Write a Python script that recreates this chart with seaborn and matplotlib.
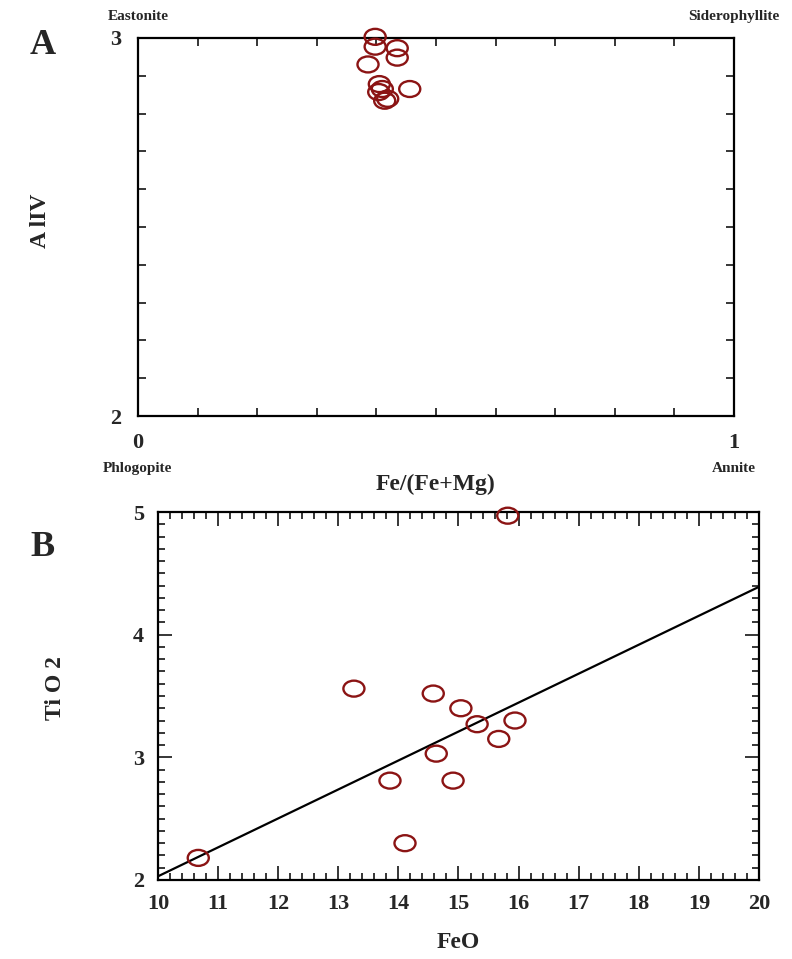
import numpy as np
import pandas as pd
import matplotlib
matplotlib.use("Agg")
import matplotlib.pyplot as plt
from matplotlib.path import Path
from matplotlib.transforms import Affine2D
from matplotlib.ticker import MultipleLocator
import seaborn as sns

sns.set_style("white")
plt.rcParams['font.family'] = ['Liberation Serif', 'DejaVu Serif']
plt.rcParams['font.weight'] = 'bold'

# Panel A data: Fe/(Fe+Mg) vs AlIV
feratio = [0.398, 0.398, 0.435, 0.435, 0.386, 0.405, 0.410, 0.404, 0.456, 0.414, 0.419]
aliv = [3.003, 2.977, 2.973, 2.948, 2.930, 2.878, 2.865, 2.857, 2.865, 2.834, 2.839]

# Panel B data: FeO vs TiO2
feo = [10.67, 13.26, 14.58, 15.04, 15.31, 15.94, 15.67, 14.63, 13.86, 14.91, 14.11, 15.82]
tio2 = [2.18, 3.56, 3.52, 3.40, 3.27, 3.30, 3.15, 3.03, 2.81, 2.81, 2.30, 4.97]

# trend line in panel B
trend_x = [10, 20]
trend_y = [2.03, 4.39]

corner_labels = ["Eastonite", "Siderophyllite", "Phlogopite", "Annite"]

RED = "#8B1414"
ellipse = Path.unit_circle().transformed(Affine2D().scale(1.32, 1.0))

fig = plt.figure(figsize=(7.92, 9.59), dpi=100)
axA = fig.add_axes([0.1742, 0.5662, 0.7525, 0.3942])
axB = fig.add_axes([0.1995, 0.0824, 0.7588, 0.3837])

dfA = pd.DataFrame({"x": feratio, "y": aliv})
dfB = pd.DataFrame({"x": feo, "y": tio2})

for ax, df in ((axA, dfA), (axB, dfB)):
    sns.scatterplot(data=df, x="x", y="y", ax=ax, marker=ellipse, s=230,
                    facecolor="none", edgecolor=RED, linewidth=1.7,
                    clip_on=False, zorder=5)

sns.lineplot(x=trend_x, y=trend_y, ax=axB, color="black", linewidth=1.6)

# Panel A axes
axA.set_xlim(0, 1)
axA.set_ylim(2, 3)
axA.set_xticks([0, 1])
axA.set_yticks([2, 3])
axA.xaxis.set_minor_locator(MultipleLocator(0.1))
axA.yaxis.set_minor_locator(MultipleLocator(0.1))
axA.tick_params(which='both', direction='in', top=True, right=True,
                bottom=True, left=True, width=1.3)
axA.tick_params(which='major', length=0, labelsize=16, pad=12)
axA.tick_params(which='minor', length=6)
axA.set_xlabel("Fe/(Fe+Mg)", fontsize=17, fontweight='bold')
axA.set_ylabel("A lIV", fontsize=17, fontweight='bold')
axA.xaxis.label.set_va('center')
axA.yaxis.label.set_va('center')
axA.xaxis.set_label_coords(0.5, -0.18)
axA.yaxis.set_label_coords(-0.164, 0.516)

axA.text(0, 1.04, corner_labels[0], transform=axA.transAxes, ha='center', va='bottom', fontsize=11, fontweight='bold')
axA.text(1, 1.04, corner_labels[1], transform=axA.transAxes, ha='center', va='bottom', fontsize=11, fontweight='bold')
axA.text(0, -0.138, corner_labels[2], transform=axA.transAxes, ha='center', va='center', fontsize=11, fontweight='bold')
axA.text(1, -0.138, corner_labels[3], transform=axA.transAxes, ha='center', va='center', fontsize=11, fontweight='bold')
fig.text(30 / 792, 1 - 45 / 959, "A", fontsize=26, fontweight='bold', ha='left', va='center')

# Panel B axes
axB.set_xlim(10, 20)
axB.set_ylim(2, 5)
axB.xaxis.set_major_locator(MultipleLocator(1))
axB.xaxis.set_minor_locator(MultipleLocator(0.2))
axB.yaxis.set_major_locator(MultipleLocator(1))
axB.yaxis.set_minor_locator(MultipleLocator(0.1))
axB.tick_params(which='both', direction='in', top=True, right=True,
                bottom=True, left=True, width=1.3)
axB.tick_params(which='major', length=10, labelsize=16, pad=10)
axB.tick_params(which='minor', length=5)
axB.set_xlabel("FeO", fontsize=17, fontweight='bold')
axB.set_ylabel("Ti O 2", fontsize=17, fontweight='bold')
axB.xaxis.label.set_va('center')
axB.yaxis.label.set_va('center')
axB.xaxis.set_label_coords(0.5, -0.171)
axB.yaxis.set_label_coords(-0.171, 0.522)
fig.text(30 / 792, 1 - 548 / 959, "B", fontsize=26, fontweight='bold', ha='left', va='center')

for ax in (axA, axB):
    for sp in ax.spines.values():
        sp.set_linewidth(1.6)
        sp.set_color("black")
    for lab in ax.get_xticklabels() + ax.get_yticklabels():
        lab.set_fontweight('bold')

fig.savefig("out.png", dpi=100, facecolor="white")
